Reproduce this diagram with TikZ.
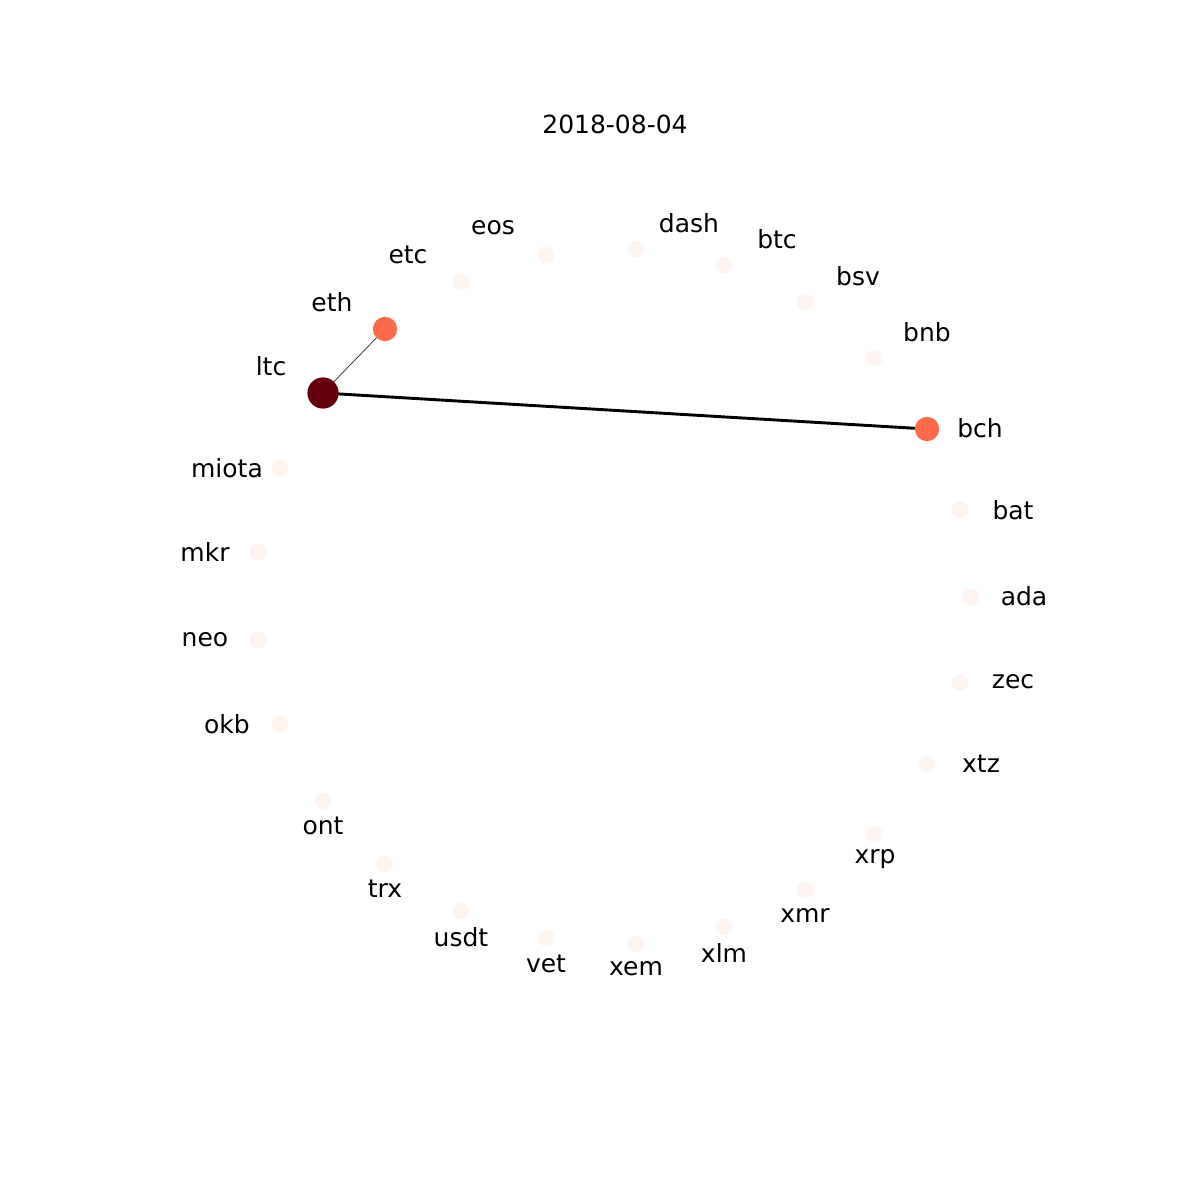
\documentclass[tikz,border=0pt]{standalone}
\usepackage{fontspec}
\setmainfont{DejaVu Sans}
\definecolor{cdark}{HTML}{67000D}
\definecolor{cmid}{HTML}{FB6A4A}
\definecolor{clight}{HTML}{FFF5F0}
\begin{document}
\begin{tikzpicture}[x=0.72pt,y=-0.72pt,
  lightnode/.style={circle,fill=clight,inner sep=0pt,minimum size=12pt},
  midnode/.style={circle,fill=cmid,inner sep=0pt,minimum size=17.5pt},
  darknode/.style={circle,fill=cdark,inner sep=0pt,minimum size=22.5pt},
  lbl/.style={font=\fontsize{18pt}{21pt}\selectfont,inner sep=0pt},
  thickedge/.style={line width=2.1pt,black},
  thinedge/.style={line width=0.5pt,black!85}]
\useasboundingbox (0,0) rectangle (1200,1200);
\node[lbl] (title) at (615,124) {2018-08-04};
% nodes
\node[lightnode] (etc) at (461,282) {};
\node[lightnode] (eos) at (546,255) {};
\node[lightnode] (dash) at (636,249) {};
\node[lightnode] (btc) at (724,265) {};
\node[lightnode] (bsv) at (805,302) {};
\node[lightnode] (bnb) at (874,358) {};
\node[lightnode] (bat) at (960,510) {};
\node[lightnode] (ada) at (971,597) {};
\node[lightnode] (zec) at (960,683) {};
\node[lightnode] (xtz) at (927,764) {};
\node[lightnode] (xrp) at (874,834) {};
\node[lightnode] (xmr) at (805,890) {};
\node[lightnode] (xlm) at (724,927) {};
\node[lightnode] (xem) at (636,944) {};
\node[lightnode] (vet) at (546,938) {};
\node[lightnode] (usdt) at (461,911) {};
\node[lightnode] (trx) at (385,864) {};
\node[lightnode] (ont) at (323,801) {};
\node[lightnode] (okb) at (280,724) {};
\node[lightnode] (neo) at (258,640) {};
\node[lightnode] (mkr) at (258,552) {};
\node[lightnode] (miota) at (280,468) {};
% edges
\draw[thinedge] (323,393) coordinate (ltcc) -- (385,329) coordinate (ethc);
\draw[thickedge] (ltcc) -- (927,429) coordinate (bchc);
\node[midnode] (eth) at (ethc) {};
\node[midnode] (bch) at (bchc) {};
\node[darknode] (ltc) at (ltcc) {};
% labels
\node[lbl] (l-ltc) at (271,366) {ltc};
\node[lbl] (l-eth) at (332,302) {eth};
\node[lbl] (l-etc) at (408,255) {etc};
\node[lbl] (l-eos) at (493,228) {eos};
\node[lbl] (l-dash) at (689,223) {dash};
\node[lbl] (l-btc) at (777,239) {btc};
\node[lbl] (l-bsv) at (858,276) {bsv};
\node[lbl] (l-bnb) at (927,332) {bnb};
\node[lbl] (l-bch) at (980,428) {bch};
\node[lbl] (l-bat) at (1013,510) {bat};
\node[lbl] (l-ada) at (1024,596) {ada};
\node[lbl] (l-zec) at (1013,682) {zec};
\node[lbl] (l-xtz) at (981,764) {xtz};
\node[lbl] (l-xrp) at (875,859) {xrp};
\node[lbl] (l-xmr) at (805,915) {xmr};
\node[lbl] (l-xlm) at (724,953) {xlm};
\node[lbl] (l-xem) at (636,969) {xem};
\node[lbl] (l-vet) at (546,964) {vet};
\node[lbl] (l-usdt) at (461,937) {usdt};
\node[lbl] (l-trx) at (385,889) {trx};
\node[lbl] (l-ont) at (323,826) {ont};
\node[lbl] (l-okb) at (227,724) {okb};
\node[lbl] (l-neo) at (205,640) {neo};
\node[lbl] (l-mkr) at (205,552) {mkr};
\node[lbl] (l-miota) at (227,468) {miota};
\end{tikzpicture}
\end{document}
